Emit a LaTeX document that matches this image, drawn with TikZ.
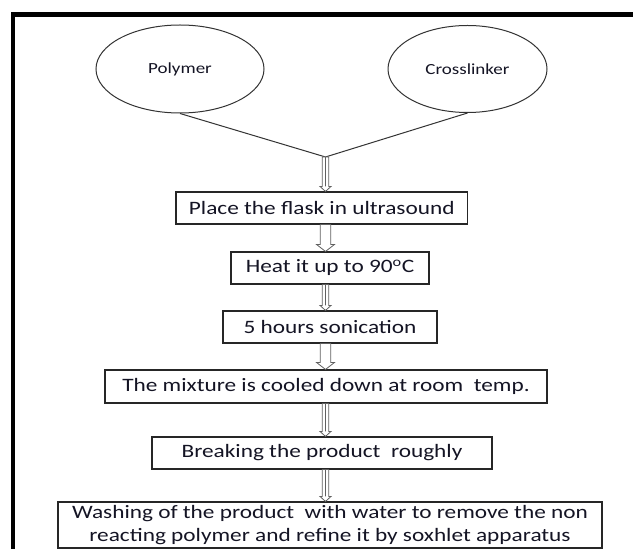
\documentclass[tikz,border=0pt]{standalone}
\usepackage{fontspec}
\setmainfont{Carlito}[FakeStretch=1.23]
\usetikzlibrary{shapes.geometric,calc}
\definecolor{txt}{HTML}{141424}
\begin{document}
\begin{tikzpicture}[x=1bp,y=-1bp,
  stepbox/.style={draw=black!85, line width=1.1bp, minimum height=32bp, inner sep=0pt,
    font=\fontsize{19}{23}\selectfont, text=txt, align=center},
  oval/.style={ellipse, draw=black!80, line width=1bp, inner sep=0pt,
    font=\fontsize{15.5}{18}\selectfont, text=txt},
  feed/.style={draw=black!80, line width=1bp},
  frameline/.style={draw=black, line width=4.6bp},
  widearrow/.style={draw=gray!75!black, line width=0.8bp, fill=white,
    to path={let \p1=(\tikztostart), \p2=(\tikztotarget) in
      (\x1-5.3bp,\y1) -- (\x1-5.3bp,\y2+7bp) -- (\x1-9bp,\y2+7bp) -- (\x1,\y2)
      -- (\x1+9bp,\y2+7bp) -- (\x1+5.3bp,\y2+7bp) -- (\x1+5.3bp,\y1) -- cycle}},
  narrowarrow/.style={draw=gray!75!black, line width=0.8bp, fill=white,
    to path={let \p1=(\tikztostart), \p2=(\tikztotarget) in
      (\x1-3.2bp,\y1) -- (\x1-3.2bp,\y2+5bp) -- (\x1-5.5bp,\y2+5bp) -- (\x1,\y2)
      -- (\x1+5.5bp,\y2+5bp) -- (\x1+3.2bp,\y2+5bp) -- (\x1+3.2bp,\y1) -- cycle
      (\x1,\y1) -- (\x1,\y2+5bp)}}
]
\useasboundingbox (0,0) rectangle (633,549);
\fill[white] (0,0) rectangle (633,549);

% frame
\coordinate (fa) at (13,549);
\coordinate (fb) at (13,14.7);
\coordinate (fc) at (633,14.7);
\draw[frameline, line join=miter] (fa) -- (fb) -- (fc);

% ellipses
\node[oval, minimum width=168bp, minimum height=88bp] (poly) at (180,69) {Polymer};
\node[oval, minimum width=159bp, minimum height=87bp] (cross) at (467.5,69) {Crosslinker};
\coordinate (J) at (325.5,157);
\draw[feed] (poly.south) -- (J);
\draw[feed] (cross.south) -- (J);

% steps
\node[stepbox, minimum width=291.5bp] (b1) at (321.75,208) {Place the flask in ultrasound};
\node[stepbox, minimum width=198bp] (b2) at (330,268) {Heat it up to 90\textsuperscript{o}C};
\node[stepbox, minimum width=214bp] (b3) at (330,327) {5 hours sonication};
\node[stepbox, minimum width=442bp, minimum height=33bp] (b4) at (326,386.5) {The mixture is cooled down at room\ \ temp.};
\node[stepbox, minimum width=340bp] (b5) at (322,453) {Breaking the product\ \ roughly};
\node[stepbox, minimum width=544bp, minimum height=46bp] (b6) at (330,525)
  {Washing of the product\ \ with water to remove the non\\reacting polymer and refine it by soxhlet apparatus};

% arrows
\draw[narrowarrow] (J) to (b1.north -| J);
\draw[widearrow] (b1.south -| J) to (b2.north -| J);
\draw[narrowarrow] (b2.south -| J) to (b3.north -| J);
\draw[widearrow] (b3.south -| J) to (b4.north -| J);
\draw[narrowarrow] (b4.south -| J) to (b5.north -| J);
\draw[narrowarrow] (b5.south -| J) to (b6.north -| J);
\end{tikzpicture}
\end{document}
